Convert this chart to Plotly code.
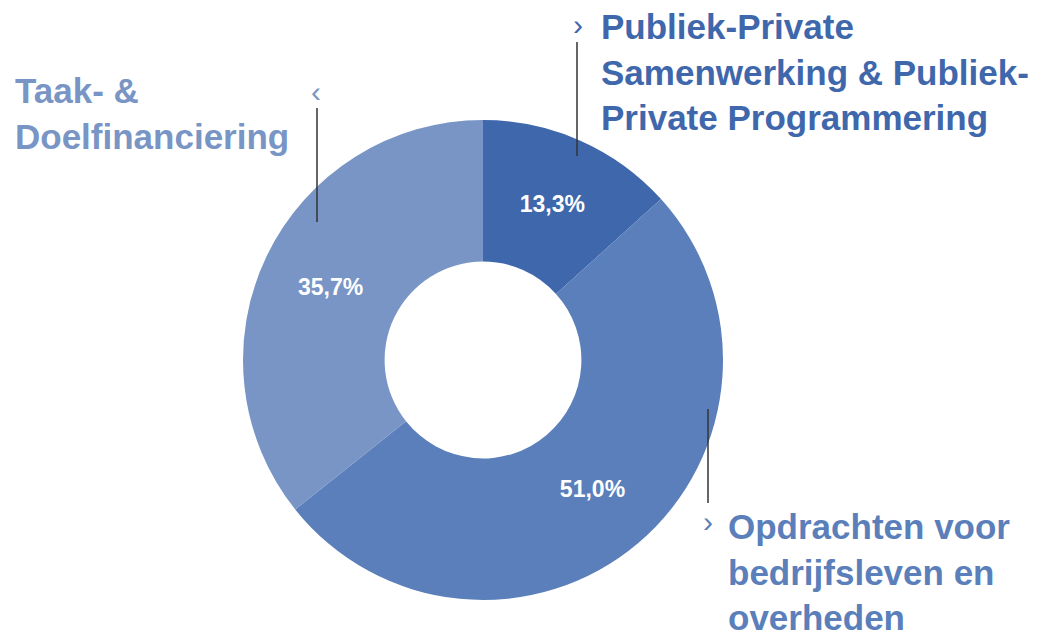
import plotly.graph_objects as go

categories = ["Publiek-Private Samenwerking & Publiek-Private Programmering",
              "Opdrachten voor bedrijfsleven en overheden",
              "Taak- & Doelfinanciering"]
values = [13.3, 51.0, 35.7]
colors = ["#3F67AC", "#5B7FBA", "#7895C5"]

W, H = 1048, 635
OFF = 8  # page offset of the plot in the browser
def px(x): return (x - OFF) / W
def py(y): return 1 - (y - OFF) / H

fig = go.Figure(go.Pie(
    labels=categories, values=values, sort=False, direction="clockwise", rotation=0,
    hole=0.41, marker=dict(colors=colors, line=dict(width=0)),
    texttemplate="%{value:.1f}%", textinfo="text", textposition="inside",
    insidetextorientation="horizontal",
    textfont=dict(family="Liberation Sans", size=23, color="white", weight="bold"),
    domain=dict(x=[px(243), px(723)], y=[py(600), py(120)]),
    showlegend=False, hoverinfo="label+percent",
))

FONT = "Liberation Sans"
labels_cfg = [
    ("Publiek-Private<br>Samenwerking &amp; Publiek-<br>Private Programmering", 599, 72, colors[0]),
    ("Taak- &amp;<br>Doelfinanciering", 13, 114, colors[2]),
    ("Opdrachten voor<br>bedrijfsleven en<br>overheden", 726, 572, colors[1]),
]
ann = []
for txt, x, y, c in labels_cfg:
    ann.append(dict(text=txt, x=px(x), y=py(y), xref="paper", yref="paper",
                    xanchor="left", yanchor="middle", align="left", showarrow=False,
                    font=dict(family=FONT, size=35, color=c, weight="bold")))
chevrons = [("›", 578, 24, colors[0]), ("‹", 316, 91, colors[2]), ("›", 708, 521, colors[1])]
for t, x, y, c in chevrons:
    ann.append(dict(text=t, x=px(x), y=py(y), xref="paper", yref="paper",
                    xanchor="center", yanchor="middle", showarrow=False,
                    font=dict(family=FONT, size=30, color=c)))

shapes = []
for x, y0, y1 in [(577, 42, 156), (317, 108, 222), (708, 409, 503)]:
    shapes.append(dict(type="line", xref="paper", yref="paper",
                       x0=px(x), x1=px(x), y0=py(y0), y1=py(y1),
                       line=dict(color="#333333", width=1.5)))

fig.update_layout(width=W, height=H, margin=dict(l=0, r=0, t=0, b=0),
                  paper_bgcolor="white", plot_bgcolor="white",
                  separators=",.", annotations=ann, shapes=shapes)
fig.write_html("out.html")
